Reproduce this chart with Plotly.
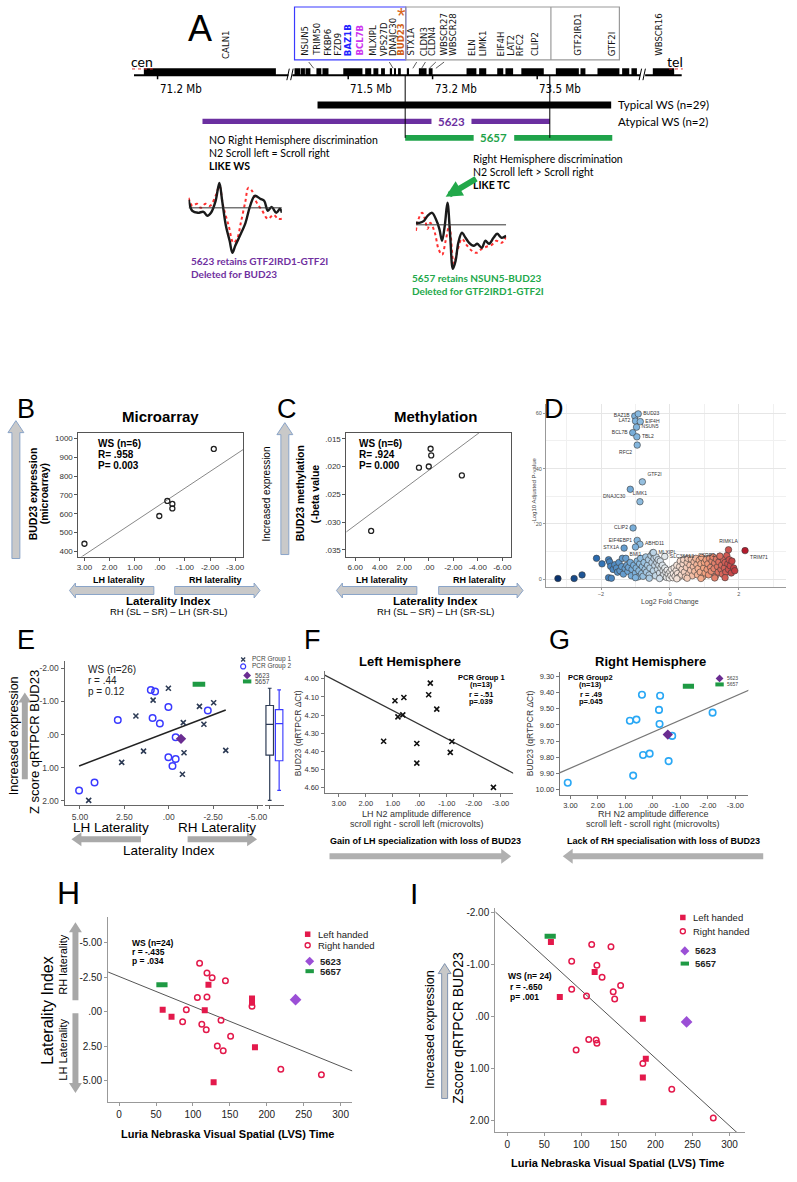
import numpy as np
import plotly.graph_objects as go

W, H = 797, 1182
F_ARIAL = "Liberation Sans, Arial, sans-serif"
F_CAL = "Lato, 'Open Sans', sans-serif"
F_NARROW = "'Liberation Sans Narrow', 'DejaVu Sans Condensed', 'Liberation Sans', sans-serif"

# ======================= DATA =======================
# Panel A - WS region map (positions in % along the drawn map: 0 = cen end, 100 = tel end)
block_start = [1.8, 29.3, 30.4, 31.3, 33.3, 34.4, 38.2, 42.2, 43.7, 45.1, 46.7, 47.5, 48.2, 49.8,
               52.0, 53.8, 60.7, 63.0, 66.3, 67.8, 70.7, 77.0, 81.5, 84.6, 89.1, 90.8, 94.7]
block_end = [25.9, 30.3, 31.2, 32.2, 34.2, 35.5, 41.7, 43.3, 44.6, 45.8, 47.1, 47.8, 48.7, 50.2,
             53.4, 54.5, 62.5, 64.3, 67.4, 69.2, 74.8, 81.2, 82.4, 88.6, 90.4, 91.8, 98.6]
gene_names = ["CALN1", "NSUN5", "TRIM50", "FKBP6", "FZD9", "BAZ1B", "BCL7B", "MLXIPL", "VPS27D",
              "DNAJC30", "BUD23", "STX1A", "CLDN3", "CLDN4", "WBSCR27", "WBSCR28", "ELN", "LIMK1",
              "EIF4H", "LAT2", "RFC2", "CLIP2", "GTF2IRD1", "GTF2I", "WBSCR16"]
gene_pos = [16.8, 31.2, 33.3, 35.3, 37.1, 39.1, 41.1, 43.5, 45.7, 47.3, 48.7, 50.5, 52.9, 54.3,
            56.5, 58.2, 61.6, 63.6, 66.8, 68.7, 70.5, 73.2, 81.0, 87.3, 95.8]
# label-to-locus connector ticks (label end, locus end)
conn_label = [31.9, 46.6, 51.6, 53.2, 55.1, 56.6]
conn_locus = [32.8, 47.3, 50.9, 52.5, 53.9, 55.1]
mb_labels = ["71.2 Mb", "71.5 Mb", "73.2 Mb", "73.5 Mb"]
mb_pos = [4.3, 39.1, 54.5, 73.6]
typical_ws = [33.5, 87.1]
del_5623_start = [12.5, 61.6]
del_5623_end = [54.3, 75.9]
del_5657_start = [49.5, 69.4]
del_5657_end = [62.0, 87.3]
breakpoints = [49.5, 75.9]

# ERP waveforms (time %, amplitude)
w5623_t_blk = [0, 4, 10, 16, 20, 24, 29, 33, 36, 40, 44, 47, 50, 55, 61, 66, 71, 77, 81, 85, 89, 94, 98, 100]
w5623_a_blk = [1.6, -0.6, -1.0, -0.8, -1.6, -1.0, 1.4, 5.0, 1.4, -3.6, -6.6, -9.0, -7.6, -5.6, -3.0, 0.4,
               2.4, 1.8, 1.4, -0.6, 0.2, -1.0, -0.2, -1.0]
w5623_t_red = [0, 4, 9, 13, 18, 23, 29, 33, 37, 43, 48, 52, 56, 61, 64, 68, 72, 79, 85, 91, 96, 100]
w5623_a_red = [2.0, 0.4, 0.8, 0, 0.8, 0.4, 2.4, 4.4, 0.4, -3.6, -7.0, -6.2, -3.0, 1.4, 4.0, 3.4, 1.4,
               -0.6, -2.2, -1.4, -2.2, -2.2]
w5657_t_blk = [0, 4, 9, 13, 18, 22, 26, 29, 32, 35, 38, 41, 44, 47, 51, 55, 59, 64, 68, 73, 77, 81, 86, 90, 95, 100]
w5657_a_blk = [0.4, 0.4, 0.8, 1.8, 2.4, 1.2, -0.8, -3.2, -0.2, 4.4, -2.2, -8.8, -7.2, -3.6, -1.6, -2.6,
               -3.6, -4.2, -3.8, -4.6, -3.2, -3.8, -2.6, -1.8, -2.6, -2.2]
w5657_t_red = [0, 3, 7, 10, 13, 16, 21, 25, 29, 33, 37, 42, 46, 51, 56, 62, 67, 73, 78, 84, 89, 95, 100]
w5657_a_red = [-1.2, 1.2, 2.4, 1.2, -0.8, 0.4, -1.6, -4.8, -6.0, -3.2, -0.2, -7.8, -5.2, -2.8, -4.0,
               -5.2, -5.6, -4.8, -4.4, -4.0, -3.2, -3.6, -2.4]

# Panel B - microarray
b_li = [3.0, 0.02, -0.3, -0.5, -0.5, -2.15]
b_expr = [440, 588, 668, 652, 628, 945]
# Panel C - methylation
c_li = [4.7, 0.8, 0.0, -0.2, -0.15, -2.7]
c_meth = [0.0316, 0.0202, 0.0200, 0.0180, 0.0168, 0.0216]

# Panel D - volcano
d_fc = [-3.25, -2.78, -2.55, -2.13, -1.97, -1.78, -1.75, -1.72, -1.78, -1.70,
        -1.65, -1.60, -1.55, -1.52, -1.48, -1.45, -1.40, -1.38, -1.35, -1.30,
        -1.28, -1.25, -1.22, -1.20, -1.15, -1.12, -1.10, -1.05, -1.00, -0.98,
        -0.95, -0.92, -0.90, -0.88, -0.85, -0.82, -0.80, -0.78, -0.75, -0.72,
        -0.70, -0.68, -0.65, -0.62, -0.60, -0.58, -0.55, -0.52, -0.50, -0.48,
        -0.46, -0.44, -0.42, -0.40, -0.38, -0.36, -0.34, -0.32, -0.30, -0.28,
        -0.26, -0.24, -0.22, -0.20, -0.18, -0.15, -0.12, -0.10, -0.08, -0.05,
        -0.02, 0.00, 0.03, 0.05, 0.08, 0.10, 0.12, 0.15, 0.18, 0.20,
        0.22, 0.25, 0.28, 0.30, 0.33, 0.35, 0.38, 0.40, 0.42, 0.45,
        0.48, 0.50, 0.52, 0.55, 0.58, 0.60, 0.62, 0.65, 0.68, 0.70,
        0.72, 0.75, 0.78, 0.80, 0.82, 0.85, 0.88, 0.90, 0.92, 0.95,
        0.98, 1.00, 1.02, 1.05, 1.08, 1.10, 1.12, 1.15, 1.18, 1.20,
        1.22, 1.25, 1.28, 1.30, 1.32, 1.35, 1.38, 1.40, 1.42, 1.45,
        1.48, 1.50, 1.52, 1.55, 1.58, 1.60, 1.62, 1.65, 1.68, 1.70,
        1.72, 1.75, 1.78, 1.80, 1.85, 1.88, -0.60, -0.30, 0.20, 0.50,
        0.90, 1.30, -1.00, 1.60]
d_p = [0.2, 0.2, 1.5, 7.5, 5.5, 7.0, 6.2, 4.6, 0.5, 0.3,
       3.5, 5.2, 4.0, 2.5, 6.0, 3.0, 4.5, 7.5, 1.8, 3.8,
       7.5, 5.0, 2.8, 4.2, 6.0, 1.2, 3.5, 5.0, 2.2, 4.0,
       6.5, 0.8, 3.0, 5.5, 7.5, 2.0, 4.5, 1.0, 6.0, 3.5,
       8.0, 2.5, 5.0, 7.0, 1.5, 4.0, 8.5, 6.0, 9.5, 3.0,
       7.5, 5.0, 1.2, 8.0, 6.0, 3.5, 7.0, 5.0, 2.2, 6.5,
       4.0, 0.8, 5.0, 3.0, 1.5, 4.0, 2.5, 0.6, 3.2, 1.8,
       0.4, 2.6, 1.2, 3.5, 0.5, 2.0, 4.0, 1.0, 3.0, 5.0,
       2.0, 0.6, 4.5, 6.5, 1.5, 3.5, 5.5, 7.0, 2.5, 0.8,
       4.2, 6.0, 7.5, 2.0, 5.0, 3.2, 7.2, 1.2, 4.5, 6.2,
       2.8, 7.5, 5.2, 1.5, 3.8, 6.8, 2.5, 5.5, 7.8, 0.8,
       4.0, 6.0, 2.2, 7.0, 3.5, 5.5, 1.5, 7.5, 4.2, 2.8,
       6.5, 8.0, 3.8, 5.8, 1.0, 7.2, 4.5, 2.5, 6.2, 8.2,
       3.5, 5.0, 1.8, 7.0, 4.0, 6.0, 2.5, 8.5, 5.5, 3.5,
       7.0, 4.8, 2.2, 6.5, 4.0, 3.0, 0.3, 0.2, 0.1, 0.3,
       0.2, 0.4, 0.5, 0.5]
d_lab_names = ["BAZ1B", "BUD23", "LAT2", "EIF4H", "NSUN5", "BCL7B", "TBL2", "RFC2", "GTF2I", "DNAJC30",
               "LIMK1", "CLIP2", "EIF4EBP1", "ABHD11", "STX1A", "BMI1", "MLXIPL", "SLC38A13", "RIMKLA",
               "CSRP2", "TRIM71"]
d_lab_fc = [-1.02, -0.92, -1.00, -0.86, -0.97, -1.08, -0.96, -0.95, -0.80, -1.15,
            -0.87, -1.07, -0.95, -0.87, -1.33, -1.00, -0.48, -0.15, 1.70, 1.45, 2.18]
d_lab_p = [59.0, 59.8, 57.2, 57.0, 55.0, 53.0, 51.5, 48.5, 35.2, 32.5,
           28.0, 18.5, 14.0, 12.6, 11.2, 11.6, 9.6, 8.2, 10.6, 8.3, 10.3]

# Panel E - z score qRTPCR BUD23 vs laterality index
e_g1_li = [0.02, 0.88, 1.85, -1.73, -2.53, -0.82, -1.98, 1.42, -0.86, -3.21, 2.65, -0.77, 4.51]
e_g1_z = [-1.40, -1.04, -0.56, -0.85, -0.96, -0.36, -0.31, 0.50, 0.55, 0.48, 0.84, 1.20, 1.99]
e_g2_li = [1.01, 0.77, 0.02, -2.20, 2.87, 0.91, 0.50, -0.39, 0.02, -0.39, -0.21, 4.18, 5.05]
e_g2_z = [-1.35, -1.30, -0.83, -0.73, -0.44, -0.50, -0.33, 0.08, 0.69, 0.74, 0.95, 1.45, 1.69]
e_5623 = [-0.69, 0.13]
e_5657 = [-1.70, -1.52]

# Panel F - left hemisphere, PCR group 1
f_n2 = [-0.39, -0.33, 0.59, 0.92, -0.63, 0.63, 0.81, 1.34, 0.11, -1.19, -1.13, 0.11, -2.73]
f_bud = [4.024, 4.088, 4.103, 4.121, 4.167, 4.199, 4.210, 4.344, 4.356, 4.345, 4.405, 4.464, 4.597]

# Panel G - right hemisphere, PCR group 2
g_n2 = [0.40, -0.26, -0.22, -2.17, 0.84, 0.60, -0.24, -0.70, 0.36, 0.12, -0.57, 0.72, 3.10]
g_bud = [9.413, 9.419, 9.507, 9.524, 9.574, 9.567, 9.594, 9.668, 9.786, 9.778, 9.824, 9.914, 9.958]
g_5623 = [-0.54, 9.660]
g_5657 = [-1.29, 9.361]

# Panel H - laterality index vs LVS time
h_left_lvs = [121, 180, 180, 59, 116, 71, 184, 128]
h_left_li = [-1.94, -0.94, -0.63, -0.14, -0.10, 0.38, 2.59, 5.11]
h_right_lvs = [109, 119, 126, 144, 106, 119, 180, 91, 86, 112, 138, 118, 151, 133, 141, 219, 274]
h_right_li = [-3.50, -2.80, -2.45, -2.23, -1.01, -1.05, -0.38, -0.14, 0.74, 0.91, 0.62, 1.32, 1.78,
              2.49, 2.83, 4.17, 4.58]
h_5623 = [239, -0.86]
h_5657 = [58, -1.94]

# Panel I - z score BUD23 vs LVS time
i_left_lvs = [59, 118, 71, 183, 187, 183, 130]
i_left_z = [-1.44, -0.86, -0.38, 0.04, 0.81, 1.17, 1.65]
i_right_lvs = [114, 140, 87, 121, 128, 153, 87, 143, 107, 145, 110, 120, 121, 93, 183, 222, 278]
i_right_z = [-1.39, -1.35, -1.07, -0.99, -0.76, -0.60, -0.53, -0.48, -0.40, -0.34, 0.44, 0.45, 0.51,
             0.64, 0.90, 1.40, 1.95]
i_5623 = [242, 0.10]
i_5657 = [58, -1.55]

# ======================= HELPERS =======================
fig = go.Figure()
ann, shapes, axes = [], [], {}


def T4(y):  # I panel frame
    return 893 + (y - 940) * 1.154


def P(x, y):
    return x / W, 1 - y / H


def xdom(a, b):
    return [a / W, b / W]


def ydom(top, bottom):
    return [1 - bottom / H, 1 - top / H]


def text(x, y, s, size, color="#000", bold=False, angle=0, xa="center", ya="middle", fam=F_ARIAL):
    px, py = P(x, y)
    ann.append(dict(x=px, y=py, xref="paper", yref="paper", text=f"<b>{s}</b>" if bold else s,
                    showarrow=False, textangle=angle, xanchor=xa, yanchor=ya,
                    font=dict(size=size, color=color, family=fam)))


def harrow(xt, xh, yc, shaft, headw, headlen, fill, line=None, lw=0):
    d = 1 if xh > xt else -1
    xb = xh - d * headlen
    pts = [(xt, yc - shaft / 2), (xb, yc - shaft / 2), (xb, yc - headw / 2), (xh, yc),
           (xb, yc + headw / 2), (xb, yc + shaft / 2), (xt, yc + shaft / 2)]
    path = "M " + " L ".join("%.5f,%.5f" % P(*p) for p in pts) + " Z"
    shapes.append(dict(type="path", xref="paper", yref="paper", path=path, fillcolor=fill,
                       line=dict(color=line or fill, width=lw)))


def varrow(xc, yt, yh, shaft, headw, headlen, fill, line=None, lw=0):
    d = 1 if yh > yt else -1
    yb = yh - d * headlen
    pts = [(xc - shaft / 2, yt), (xc - shaft / 2, yb), (xc - headw / 2, yb), (xc, yh),
           (xc + headw / 2, yb), (xc + shaft / 2, yb), (xc + shaft / 2, yt)]
    path = "M " + " L ".join("%.5f,%.5f" % P(*p) for p in pts) + " Z"
    shapes.append(dict(type="path", xref="paper", yref="paper", path=path, fillcolor=fill,
                       line=dict(color=line or fill, width=lw)))


def sc(x, y, n, **kw):
    fig.add_trace(go.Scatter(x=x, y=y, xaxis="x" + n, yaxis="y" + n, hoverinfo="skip",
                             showlegend=False, **kw))


def plot_axis(domain, rng, anchor, tickvals, ticktext, size=8.5, mirror=False, color="#555",
              fcolor="#333", ticklen=3):
    return dict(domain=domain, range=rng, anchor=anchor, showline=True, linecolor=color, linewidth=1,
                mirror=mirror, ticks="outside", ticklen=ticklen, tickcolor=color, tickvals=tickvals,
                ticktext=ticktext, tickfont=dict(size=size, color=fcolor, family=F_ARIAL),
                showgrid=False, zeroline=False, fixedrange=True)


def fit_line(x, y, x0, x1, n, color="#444", width=1):
    m, b = np.polyfit(np.array(x, float), np.array(y, float), 1)
    xs = np.array([x0, x1])
    sc(xs, m * xs + b, n, mode="lines", line=dict(color=color, width=width))


def fmt(v):
    s = "%.2f" % v
    if s.startswith("0."):
        s = s[1:]
    if s.startswith("-0."):
        s = "-" + s[2:]
    return s


PURPLE = "#6a2c91"
GREEN = "#1f9a44"
RED = "#e3194b"

# ======================= PANEL A =======================
ROW_MAP, ROW_TYP, ROW_5623, ROW_5657 = 0, 2, 3, 4
axes["xaxis"] = dict(domain=xdom(133, 685), range=[0, 100], anchor="y", visible=False, fixedrange=True)
axes["yaxis"] = dict(domain=ydom(5, 142.5), range=[4.333, -4], anchor="x", visible=False, fixedrange=True)

for seg in [(0, 28.2), (28.9, 92.4), (93.3, 100)]:
    shapes.append(dict(type="line", xref="x", yref="y", x0=seg[0], x1=seg[1], y0=0.2, y1=0.2,
                       line=dict(color="#000", width=2)))
for xb in [27.9, 28.6, 92.2, 92.9]:
    shapes.append(dict(type="line", xref="x", yref="y", x0=xb, x1=xb + 0.45, y0=0.5, y1=-0.2,
                       line=dict(color="#000", width=1)))
for a, b in zip(conn_label, conn_locus):
    shapes.append(dict(type="line", xref="x", yref="y", x0=a, x1=b, y0=-0.6, y1=-0.22,
                       line=dict(color="#333", width=0.8)))
blen = [e - s for s, e in zip(block_start, block_end)]
fig.add_trace(go.Bar(x=blen, base=block_start, y=[ROW_MAP] * len(blen), orientation="h", width=0.45,
                     marker=dict(color="#000", line=dict(width=0)), xaxis="x", yaxis="y",
                     hoverinfo="skip", showlegend=False))
fig.add_trace(go.Bar(x=[typical_ws[1] - typical_ws[0]], base=[typical_ws[0]], y=[ROW_TYP],
                     orientation="h", width=0.42, marker=dict(color="#000", line=dict(width=0)),
                     xaxis="x", yaxis="y", hoverinfo="skip", showlegend=False))
fig.add_trace(go.Bar(x=[e - s for s, e in zip(del_5623_start, del_5623_end)], base=del_5623_start,
                     y=[ROW_5623] * 2, orientation="h", width=0.32,
                     marker=dict(color="#6b2fa0", line=dict(width=0)), xaxis="x", yaxis="y",
                     hoverinfo="skip", showlegend=False))
fig.add_trace(go.Bar(x=[e - s for s, e in zip(del_5657_start, del_5657_end)], base=del_5657_start,
                     y=[ROW_5657] * 2, orientation="h", width=0.35,
                     marker=dict(color="#1fa34a", line=dict(width=0)), xaxis="x", yaxis="y",
                     hoverinfo="skip", showlegend=False))
for bp in breakpoints:
    shapes.append(dict(type="line", xref="x", yref="y", x0=bp, x1=bp, y0=0.2, y1=4.0,
                       line=dict(color="#000", width=1)))
for pos, lab in zip(mb_pos, mb_labels):
    shapes.append(dict(type="line", xref="x", yref="y", x0=pos, x1=pos, y0=0.2, y1=0.45,
                       line=dict(color="#000", width=1.5)))
    ann.append(dict(x=pos, y=1.05, xref="x", yref="y", text=lab, showarrow=False, xanchor="left",
                    yanchor="middle", font=dict(size=11.5, family=F_NARROW, color="#000")))
shapes.append(dict(type="rect", xref="x", yref="y", x0=29.3, x1=49.6, y0=-3.94, y1=-0.73,
                   line=dict(color="#3a3aff", width=1.2)))
shapes.append(dict(type="rect", xref="x", yref="y", x0=49.6, x1=88.6, y0=-3.94, y1=-0.73,
                   line=dict(color="#9a9a9a", width=1.2)))
shapes.append(dict(type="line", xref="x", yref="y", x0=76.1, x1=76.1, y0=-3.94, y1=-0.73,
                   line=dict(color="#9a9a9a", width=1.2)))
special = {"BAZ1B": "#2020ff", "BCL7B": "#cc33ee", "BUD23": "#d0601c"}
for name, pos in zip(gene_names, gene_pos):
    col = special.get(name, "#111")
    ann.append(dict(x=pos, y=-0.67 if name == "CALN1" else -0.85, xref="x", yref="y",
                    text=f"<b>{name}</b>" if name in special else name, showarrow=False,
                    textangle=-90, xanchor="center", yanchor="bottom",
                    font=dict(size=9.5, family=F_NARROW, color=col)))
ann.append(dict(x=48.9, y=-3.45, xref="x", yref="y", text="*", showarrow=False,
                font=dict(size=22, color="#d9661f", family=F_ARIAL)))
ann.append(dict(x=87.9, y=ROW_TYP, xref="x", yref="y", text="Typical WS (n=29)", showarrow=False,
                xanchor="left", font=dict(size=11.5, family=F_CAL, color="#000")))
ann.append(dict(x=87.9, y=ROW_5623, xref="x", yref="y", text="Atypical WS (n=2)", showarrow=False,
                xanchor="left", font=dict(size=11.5, family=F_CAL, color="#000")))
ann.append(dict(x=58.0, y=ROW_5623, xref="x", yref="y", text="<b>5623</b>", showarrow=False,
                font=dict(size=11.5, family=F_CAL, color="#6b2fa0")))
ann.append(dict(x=65.6, y=ROW_5657, xref="x", yref="y", text="<b>5657</b>", showarrow=False,
                font=dict(size=11.5, family=F_CAL, color="#1fa34a")))

text(199, 28, "A", 36)
text(141, 61, "cen", 14, fam=F_CAL)
text(678, 61, "tel", 14, fam=F_CAL)
shapes.append(dict(type="line", xref="paper", yref="paper", x0=131 / W, x1=152 / W, y0=1 - 68 / H,
                   y1=1 - 68 / H, line=dict(color="#e03030", width=1, dash="dot")))
shapes.append(dict(type="line", xref="paper", yref="paper", x0=672 / W, x1=686 / W, y0=1 - 68 / H,
                   y1=1 - 68 / H, line=dict(color="#e03030", width=1, dash="dot")))

text(207, 139, "NO Right Hemisphere discrimination", 10.5, xa="left", fam=F_CAL)
text(207, 152, "N2 Scroll left = Scroll right", 10.5, xa="left", fam=F_CAL)
text(207, 165, "LIKE WS", 10.5, bold=True, xa="left", fam=F_CAL)
text(473, 158, "Right Hemisphere discrimination", 10.5, xa="left", fam=F_CAL)
text(473, 171, "N2 Scroll left > Scroll right", 10.5, xa="left", fam=F_CAL)
text(473, 184, "LIKE TC", 10.5, bold=True, xa="left", fam=F_CAL)

# ERP waveforms
axes["xaxis2"] = dict(domain=xdom(188, 282), range=[0, 100], anchor="y2", visible=False, fixedrange=True)
axes["yaxis2"] = dict(domain=ydom(178, 256), range=[-9.8, 5.8], anchor="x2", visible=False, fixedrange=True)
axes["xaxis3"] = dict(domain=xdom(417, 508), range=[0, 100], anchor="y3", visible=False, fixedrange=True)
axes["yaxis3"] = dict(domain=ydom(196, 272), range=[-9.6, 5.6], anchor="x3", visible=False, fixedrange=True)
for n in ["2", "3"]:
    shapes.append(dict(type="line", xref="x" + n, yref="y" + n, x0=0, x1=100, y0=0, y1=0,
                       line=dict(color="#333", width=1)))
sc(w5623_t_red, w5623_a_red, "2", mode="lines", line=dict(color="#ff3030", width=2, dash="dot", shape="spline"))
sc(w5623_t_blk, w5623_a_blk, "2", mode="lines", line=dict(color="#1a1a1a", width=2.4, shape="spline"))
sc(w5657_t_red, w5657_a_red, "3", mode="lines", line=dict(color="#ff3030", width=2, dash="dot", shape="spline"))
sc(w5657_t_blk, w5657_a_blk, "3", mode="lines", line=dict(color="#1a1a1a", width=2.4, shape="spline"))
ann.append(dict(x=447 / W, y=1 - 196 / H, xref="paper", yref="paper", ax=32, ay=-19, text="",
                showarrow=True, arrowhead=2, arrowsize=0.55, arrowwidth=6, arrowcolor="#22a84a"))
text(188, 260, "5623 retains GTF2IRD1-GTF2I", 10, color="#7030a0", bold=True, xa="left", fam=F_CAL)
text(188, 273, "Deleted for BUD23", 10, color="#7030a0", bold=True, xa="left", fam=F_CAL)
text(411, 277, "5657 retains NSUN5-BUD23", 10, color="#22a84a", bold=True, xa="left", fam=F_CAL)
text(411, 290, "Deleted for GTF2IRD1-GTF2I", 10, color="#22a84a", bold=True, xa="left", fam=F_CAL)

# ======================= PANEL B =======================
text(24, 408, "B", 27)
text(160, 416, "Microarray", 15, bold=True)
axes["xaxis4"] = plot_axis(xdom(77, 243), [3.24, -3.32], "y4", [3, 2, 1, 0, -1, -2, -3],
                           [fmt(v) for v in [3, 2, 1, 0, -1, -2, -3]], mirror=True, size=8)
axes["yaxis4"] = plot_axis(ydom(432, 556), [372, 1032], "x4", [400, 500, 600, 700, 800, 900, 1000],
                           ["400", "500", "600", "700", "800", "900", "1000"], mirror=True, size=8)
fit_line(b_li, b_expr, 3.3, -3.4, "4", color="#888")
sc(b_li, b_expr, "4", mode="markers", marker=dict(symbol="circle-open", size=5, color="#222", line=dict(width=1.3)))
text(95, 443, "WS (n=6)", 10, bold=True, xa="left")
text(95, 454, "R= .958", 10, bold=True, xa="left")
text(95, 465, "P= 0.003", 10, bold=True, xa="left")
varrow(14, 558, 420, 8, 16, 12, "#c9c9c9", "#8aa4c8", 1)
text(31, 493, "BUD23 expression", 10.5, bold=True, angle=-90)
text(42, 493, "(microarray)", 10.5, bold=True, angle=-90)
text(118, 579, "LH laterality", 9, bold=True)
text(215, 579, "RH laterality", 9, bold=True)
harrow(153, 68, 590, 8, 15, 6, "#c9c9c9", "#8aa4c8", 1)
harrow(174, 260, 590, 8, 15, 6, "#c9c9c9", "#8aa4c8", 1)
text(168, 601, "Laterality Index", 11.5, bold=True)
text(168, 611, "RH (SL – SR) – LH (SR-SL)", 9.5)

# ======================= PANEL C =======================
text(287, 408, "C", 27)
text(437, 416, "Methylation", 15, bold=True)
axes["xaxis5"] = plot_axis(xdom(347, 513), [6.72, -6.72], "y5", [6, 4, 2, 0, -2, -4, -6],
                           [fmt(v) for v in [6, 4, 2, 0, -2, -4, -6]], mirror=True, size=8)
axes["yaxis5"] = plot_axis(ydom(432, 556), [0.0362, 0.0139], "x5", [0.015, 0.020, 0.025, 0.030, 0.035],
                           [".015", ".020", ".025", ".030", ".035"], mirror=True, size=8)
fit_line(c_li, c_meth, 6.8, -6.8, "5", color="#888")
sc(c_li, c_meth, "5", mode="markers", marker=dict(symbol="circle-open", size=5, color="#222", line=dict(width=1.3)))
text(358, 443, "WS (n=6)", 10, bold=True, xa="left")
text(358, 454, "R= .924", 10, bold=True, xa="left")
text(358, 465, "P= 0.000", 10, bold=True, xa="left")
varrow(285, 554, 422, 8, 16, 12, "#c9c9c9", "#8aa4c8", 1)
text(267, 493, "Increased expression", 10, angle=-90)
text(300, 493, "BUD23 methylation", 10.5, bold=True, angle=-90)
text(315, 493, "(-beta value", 10.5, bold=True, angle=-90)
text(383, 579, "LH laterality", 9, bold=True)
text(481, 579, "RH laterality", 9, bold=True)
harrow(418, 337, 590, 8, 15, 6, "#c9c9c9", "#8aa4c8", 1)
harrow(440, 525, 590, 8, 15, 6, "#c9c9c9", "#8aa4c8", 1)
text(437, 601, "Laterality Index", 11.5, bold=True)
text(437, 611, "RH (SL – SR) – LH (SR-SL)", 9.5)

# ======================= PANEL D =======================
text(556, 408, "D", 27)
axes["xaxis6"] = dict(domain=xdom(548, 790), range=[-3.6, 3.37], anchor="y6", showline=True,
                      linecolor="#999", linewidth=1, ticks="outside", ticklen=2, tickcolor="#999",
                      tickvals=[-2, 0, 2], tickfont=dict(size=5.5, color="#555", family=F_ARIAL),
                      showgrid=True, gridcolor="#e6e6e6", gridwidth=1, zeroline=False, fixedrange=True,
                      minor=dict(tickvals=[-3, -1, 1, 3], showgrid=True, gridcolor="#f0f0f0"))
axes["yaxis6"] = dict(domain=ydom(403, 586), range=[-2.7, 63.5], anchor="x6", showline=True,
                      linecolor="#999", linewidth=1, ticks="outside", ticklen=2, tickcolor="#999",
                      tickvals=[0, 20, 40, 60], tickfont=dict(size=5.5, color="#555", family=F_ARIAL),
                      showgrid=True, gridcolor="#e6e6e6", zeroline=False, fixedrange=True,
                      minor=dict(tickvals=[10, 30, 50], showgrid=True, gridcolor="#f0f0f0"))
VOLC = [[0, "#08306b"], [0.22, "#2b6cb0"], [0.42, "#7fb3dc"], [0.6, "#f4f1ee"], [0.78, "#f4a582"],
        [1, "#b2182b"]]
sc(d_fc, d_p, "6", mode="markers",
   marker=dict(size=6.5, color=d_fc, colorscale=VOLC, cmin=-3.3, cmax=2.2,
               line=dict(color="#3a3a3a", width=0.6)))
lab_pos = ["middle left", "middle right", "middle left", "middle right", "middle right", "middle left",
           "middle right", "bottom left", "top right", "bottom left", "top center", "middle left",
           "middle left", "middle right", "middle left", "bottom center", "middle right", "middle right",
           "top center", "middle left", "bottom right"]
sc(d_lab_fc, d_lab_p, "6", mode="markers+text", text=d_lab_names, textposition=lab_pos,
   textfont=dict(size=5, color="#333", family=F_ARIAL),
   marker=dict(size=6.5, color=d_lab_fc, colorscale=VOLC, cmin=-3.3, cmax=2.2,
               line=dict(color="#3a3a3a", width=0.6)))
text(536, 490, "-Log10 Adjusted P-value", 6, color="#444", angle=-90)
text(673, 602, "Log2 Fold Change", 7, color="#444")

# ======================= PANEL E =======================
text(24, 640, "E", 27)
axes["xaxis7"] = plot_axis(xdom(63, 263), [5.87, -5.31], "y7", [5, 2.5, 0, -2.5, -5],
                           ["5.00", "2.50", ".00", "-2.50", "-5.00"], size=8.5, color="#666", fcolor="#444")
axes["yaxis7"] = plot_axis(ydom(661, 805), [2.14, -2.21], "x7", [-2, -1, 0, 1, 2],
                           ["-2.00", "-1.00", ".00", "1.00", "2.00"], size=8.5, color="#666", fcolor="#444")
axes["xaxis8"] = dict(domain=xdom(265, 284), type="category", range=[-0.5, 1.5], anchor="y7",
                      showline=True, linecolor="#666", ticks="outside", ticklen=3, tickcolor="#666",
                      showticklabels=False, showgrid=False, fixedrange=True)
e_all_li = e_g1_li + e_g2_li
e_all_z = e_g1_z + e_g2_z
fit_line(e_all_li, e_all_z, max(e_all_li), min(e_all_li), "7", color="#222", width=1.5)
sc(e_g1_li, e_g1_z, "7", mode="markers",
   marker=dict(symbol="x-thin", size=5, line=dict(color="#2d3b55", width=1.6)))
sc(e_g2_li, e_g2_z, "7", mode="markers",
   marker=dict(symbol="circle-open", size=6.5, color="#3a3aff", line=dict(width=1.5)))
sc([e_5623[0]], [e_5623[1]], "7", mode="markers", marker=dict(symbol="diamond", size=8, color=PURPLE))
sc([e_5657[0]], [e_5657[1]], "7", mode="markers",
   marker=dict(symbol="line-ew", size=9, line=dict(color=GREEN, width=5)))
fig.add_trace(go.Box(y=e_g1_z, x=["g1"] * len(e_g1_z), xaxis="x8", yaxis="y7", boxpoints=False,
                     line=dict(color="#2d3b55", width=1.2), fillcolor="rgba(255,255,255,0)",
                     width=0.8, hoverinfo="skip", showlegend=False))
fig.add_trace(go.Box(y=e_g2_z, x=["g2"] * len(e_g2_z), xaxis="x8", yaxis="y7", boxpoints=False,
                     line=dict(color="#3a3aff", width=1.2), fillcolor="rgba(255,255,255,0)",
                     width=0.8, hoverinfo="skip", showlegend=False))
text(85, 669, "WS (n=26)", 10, color="#222", xa="left")
text(85, 680, "r = .44", 10, color="#222", xa="left")
text(85, 691, "p = 0.12", 10, color="#222", xa="left")
text(12, 735, "Increased expression", 12.5, angle=-90)
varrow(23, 779, 692, 6, 13, 10, "#a8a8a8")
text(33, 742, "Z score qRTPCR BUD23", 13, angle=-90)
text(110, 827, "LH Laterality", 13.5)
text(217, 827, "RH Laterality", 13.5)
harrow(140, 70, 839, 6, 14, 10, "#aaaaaa")
harrow(187, 257, 839, 6, 14, 10, "#aaaaaa")
text(168, 850, "Laterality Index", 13.5)

# ======================= PANEL F =======================
text(313, 640, "F", 27)
text(411, 661, "Left Hemisphere", 13, bold=True)
axes["xaxis9"] = plot_axis(xdom(325, 515), [3.53, -3.46], "y9", [3, 2, 1, 0, -1, -2, -3],
                           [fmt(v) for v in [3, 2, 1, 0, -1, -2, -3]], size=7.5, color="#777")
axes["yaxis9"] = plot_axis(ydom(671, 793), [4.63, 3.96], "x9", [4.0, 4.1, 4.2, 4.3, 4.4, 4.5, 4.6],
                           ["4.00", "4.10", "4.20", "4.30", "4.40", "4.50", "4.60"], size=7.5, color="#777")
fit_line(f_n2, f_bud, 3.6, -3.5, "9", color="#333", width=1.2)
sc(f_n2, f_bud, "9", mode="markers", marker=dict(symbol="x-thin", size=5, line=dict(color="#111", width=1.6)))
text(483, 677, "PCR Group 1", 7.5, bold=True)
text(483, 684, "(n=13)", 7.5, bold=True)
text(483, 694, "r = -.51", 7.5, bold=True)
text(483, 701, "p=.039", 7.5, bold=True)
text(299, 733, "BUD23 (qRTPCR ΔCt)", 8.5, color="#333", angle=-90)
text(418, 814, "LH N2 amplitude difference", 9, color="#333")
text(418, 824, "scroll right - scroll left (microvolts)", 9, color="#333")
text(427, 841, "Gain of LH specialization with loss of BUD23", 9, bold=True)
harrow(330, 513, 856, 6, 15, 10, "#b0b0b0")

# ======================= PANEL G =======================
text(562, 640, "G", 27)
text(653, 661, "Right Hemisphere", 13, bold=True)
axes["xaxis10"] = plot_axis(xdom(562, 752), [3.39, -3.47], "y10", [3, 2, 1, 0, -1, -2, -3],
                            [fmt(v) for v in [3, 2, 1, 0, -1, -2, -3]], size=7.5, color="#777")
axes["yaxis10"] = plot_axis(ydom(672, 795), [10.036, 9.275], "x10",
                            [9.3, 9.4, 9.5, 9.6, 9.7, 9.8, 9.9, 10.0],
                            ["9.30", "9.40", "9.50", "9.60", "9.70", "9.80", "9.90", "10.00"],
                            size=7.5, color="#777")
fit_line(g_n2, g_bud, 3.4, -3.5, "10", color="#777", width=1.2)
sc(g_n2, g_bud, "10", mode="markers",
   marker=dict(symbol="circle-open", size=6.5, color="#2aa8f5", line=dict(width=1.6)))
sc([g_5623[0]], [g_5623[1]], "10", mode="markers", marker=dict(symbol="diamond", size=8, color=PURPLE))
sc([g_5657[0]], [g_5657[1]], "10", mode="markers",
   marker=dict(symbol="line-ew", size=8, line=dict(color=GREEN, width=5)))
text(593, 677, "PCR Group2", 7.5, bold=True)
text(593, 684, "(n=13)", 7.5, bold=True)
text(593, 694, "r = .49", 7.5, bold=True)
text(593, 701, "p=.045", 7.5, bold=True)
text(532, 733, "BUD23 (qRTPCR ΔCt)", 8.5, color="#333", angle=-90)
text(656, 814, "RH N2 amplitude difference", 9, color="#333")
text(656, 824, "scroll left - scroll right (microvolts)", 9, color="#333")
text(667, 841, "Lack of RH specialisation with loss of BUD23", 9, bold=True)
harrow(767, 565, 856, 6, 15, 10, "#b0b0b0")

# ======================= PANEL H =======================
text(67, 893, "H", 32)
axes["xaxis11"] = plot_axis(xdom(107, 353), [-14.8, 315.9], "y11", [0, 50, 100, 150, 200, 250, 300],
                            ["0", "50", "100", "150", "200", "250", "300"], size=10, color="#999",
                            fcolor="#222")
axes["yaxis11"] = plot_axis(ydom(917, 1102), [6.55, -6.83], "x11", [-5, -2.5, 0, 2.5, 5],
                            ["-5.00", "-2.50", ".00", "2.50", "5.00"], size=10, color="#999", fcolor="#222")
fit_line(h_left_lvs + h_right_lvs, h_left_li + h_right_li, -15, 316, "11", color="#555", width=1)
sc(h_left_lvs, h_left_li, "11", mode="markers", marker=dict(symbol="square", size=6, color=RED))
sc(h_right_lvs, h_right_li, "11", mode="markers",
   marker=dict(symbol="circle-open", size=5.5, color=RED, line=dict(width=1.5)))
sc([h_5623[0]], [h_5623[1]], "11", mode="markers", marker=dict(symbol="diamond", size=9, color="#9b4fd6"))
sc([h_5657[0]], [h_5657[1]], "11", mode="markers",
   marker=dict(symbol="line-ew", size=8, line=dict(color=GREEN, width=5)))
text(129, 943, "WS (n=24)", 8.5, bold=True, xa="left")
text(129, 952, "r = -.435", 8.5, bold=True, xa="left")
text(129, 961, "p = .034", 8.5, bold=True, xa="left")
text(45, 1010, "Laterality Index", 16, angle=-90)
text(62, 965, "RH laterality", 11, angle=-90)
text(62, 1050, "LH Laterality", 11, angle=-90)
varrow(74, 1000, 922, 6, 13, 10, "#a8a8a8")
varrow(74, 1013, 1093, 6, 13, 10, "#a8a8a8")
text(227, 1134, "Luria Nebraska Visual Spatial (LVS) Time", 11, bold=True)

# ======================= PANEL I =======================
text(415, 893, "I", 30)
axes["xaxis12"] = plot_axis(xdom(497, 749), [-16.1, 321.3], "y12", [0, 50, 100, 150, 200, 250, 300],
                            ["0", "50", "100", "150", "200", "250", "300"], size=10, color="#999",
                            fcolor="#222")
axes["yaxis12"] = plot_axis(ydom(T4(953), T4(1147)), [2.22, -2.09], "x12", [-2, -1, 0, 1, 2],
                            ["-2.00", "-1.00", ".00", "1.00", "2.00"], size=10, color="#999", fcolor="#222")
fit_line(i_left_lvs + i_right_lvs, i_left_z + i_right_z, -16, 321, "12", color="#555", width=1)
sc([i_5657[0]], [i_5657[1]], "12", mode="markers",
   marker=dict(symbol="line-ew", size=8, line=dict(color=GREEN, width=5)))
sc(i_left_lvs, i_left_z, "12", mode="markers", marker=dict(symbol="square", size=6, color=RED))
sc(i_right_lvs, i_right_z, "12", mode="markers",
   marker=dict(symbol="circle-open", size=5.5, color=RED, line=dict(width=1.5)))
sc([i_5623[0]], [i_5623[1]], "12", mode="markers", marker=dict(symbol="diamond", size=9, color="#9b4fd6"))
text(508, T4(1012), "WS (n= 24)", 8.5, bold=True, xa="left")
text(510, T4(1021), "r = -.650", 8.5, bold=True, xa="left")
text(510, T4(1030), "p= .001", 8.5, bold=True, xa="left")
text(432, T4(1058), "Increased expression", 12.5, angle=-90)
varrow(446, T4(1118), T4(1001), 6, 13, 10, "#c8c8c8", "#7f93b0", 1)
text(460, T4(1057), "Zscore qRTPCR BUD23", 14, angle=-90)
text(620, T4(1174), "Luria Nebraska Visual Spatial (LVS) Time", 11, bold=True)

# ======================= LEGEND SYMBOLS (overlay, pixel frame) =======================
axes["xaxis20"] = dict(domain=[0, 1], range=[0, W], anchor="y20", visible=False, fixedrange=True)
axes["yaxis20"] = dict(domain=[0, 1], range=[H, 0], anchor="x20", visible=False, fixedrange=True)
# E
sc([243], [659], "20", mode="markers", marker=dict(symbol="x-thin", size=4, line=dict(color="#2d3b55", width=1.3)))
sc([243], [666], "20", mode="markers", marker=dict(symbol="circle-open", size=5, color="#3a3aff", line=dict(width=1.2)))
sc([247], [675], "20", mode="markers", marker=dict(symbol="diamond", size=6, color=PURPLE))
sc([247], [681], "20", mode="markers", marker=dict(symbol="line-ew", size=6, line=dict(color=GREEN, width=4)))
text(250, 659, "PCR Group 1", 6.5, color="#444", xa="left")
text(250, 666, "PCR Group 2", 6.5, color="#444", xa="left")
text(253, 675, "5623", 6.5, color="#444", xa="left")
text(253, 681, "5657", 6.5, color="#444", xa="left")
# G
sc([723], [678], "20", mode="markers", marker=dict(symbol="diamond", size=6, color=PURPLE))
sc([723], [684], "20", mode="markers", marker=dict(symbol="line-ew", size=6, line=dict(color=GREEN, width=4)))
text(728, 678, "5623", 5, color="#444", xa="left")
text(728, 684, "5657", 5, color="#444", xa="left")
# H
sc([308], [934], "20", mode="markers", marker=dict(symbol="square", size=5.5, color=RED))
sc([308], [945], "20", mode="markers", marker=dict(symbol="circle-open", size=5, color=RED, line=dict(width=1.4)))
sc([310], [961], "20", mode="markers", marker=dict(symbol="diamond", size=7, color="#9b4fd6"))
sc([310], [971], "20", mode="markers", marker=dict(symbol="line-ew", size=6, line=dict(color=GREEN, width=4)))
text(316, 934, "Left handed", 9.5, color="#222", xa="left")
text(316, 945, "Right handed", 9.5, color="#222", xa="left")
text(318, 961, "5623", 9.5, color="#222", xa="left", bold=True)
text(318, 971, "5657", 9.5, color="#222", xa="left", bold=True)
# I
sc([686], [T4(961)], "20", mode="markers", marker=dict(symbol="square", size=5.5, color=RED))
sc([686], [T4(973)], "20", mode="markers", marker=dict(symbol="circle-open", size=5, color=RED, line=dict(width=1.4)))
sc([688], [T4(990)], "20", mode="markers", marker=dict(symbol="diamond", size=7, color="#9b4fd6"))
sc([688], [T4(1001)], "20", mode="markers", marker=dict(symbol="line-ew", size=6, line=dict(color=GREEN, width=4)))
text(694, T4(961), "Left handed", 9.5, color="#222", xa="left")
text(694, T4(973), "Right handed", 9.5, color="#222", xa="left")
text(696, T4(990), "5623", 9.5, color="#222", xa="left", bold=True)
text(696, T4(1001), "5657", 9.5, color="#222", xa="left", bold=True)

fig.update_layout(width=W, height=H, margin=dict(l=0, r=0, t=0, b=0), paper_bgcolor="white",
                  plot_bgcolor="rgba(0,0,0,0)", showlegend=False, barmode="overlay", annotations=ann,
                  shapes=shapes, font=dict(family=F_ARIAL), **axes)
fig.write_html("out.html")
